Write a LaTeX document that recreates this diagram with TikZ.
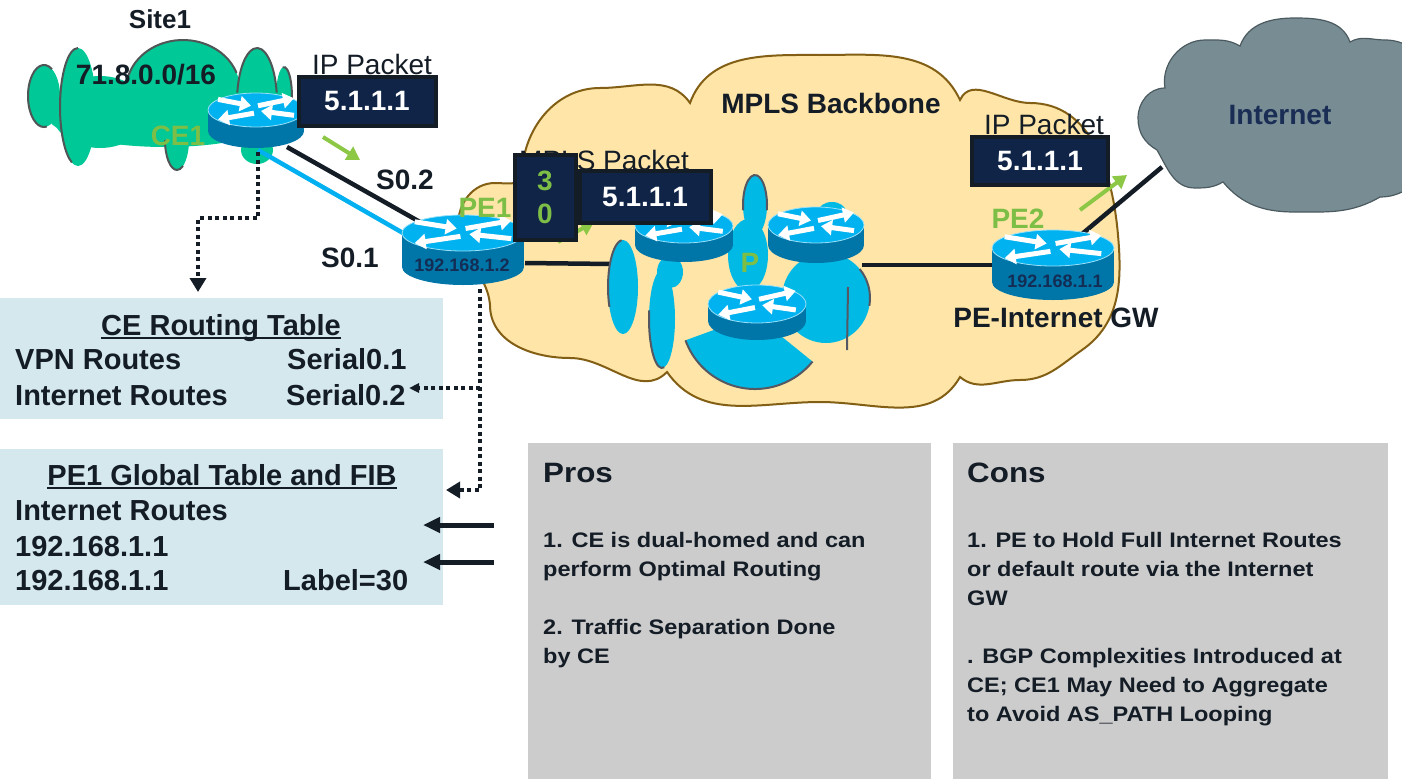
\documentclass[tikz,border=0pt]{standalone}
\usepackage{fontspec}
\setmainfont{Liberation Sans}
\newfontfamily\widefont[FakeStretch=1.12]{Liberation Sans}
\usetikzlibrary{arrows.meta,positioning,calc}

\definecolor{ink}{RGB}{20,28,38}
\definecolor{navy}{RGB}{16,36,72}
\definecolor{sitegreen}{RGB}{0,200,150}
\definecolor{siteoutline}{RGB}{80,85,85}
\definecolor{tagreen}{RGB}{125,190,70}
\definecolor{arrowgreen}{RGB}{140,200,70}
\definecolor{mplsfill}{RGB}{255,230,168}
\definecolor{mplsedge}{RGB}{130,95,20}
\definecolor{netgrey}{RGB}{120,140,148}
\definecolor{netedge}{RGB}{75,90,95}
\definecolor{netlabel}{RGB}{25,45,85}
\definecolor{rtop}{RGB}{0,178,240}
\definecolor{rside}{RGB}{0,118,168}
\definecolor{rlabel}{RGB}{20,45,85}
\definecolor{blob}{RGB}{0,185,228}
\definecolor{bloboutline}{RGB}{85,88,98}
\definecolor{cyanlink}{RGB}{0,176,240}
\definecolor{tableblue}{RGB}{213,232,237}
\definecolor{boxgrey}{RGB}{204,204,204}

% router icon: x radius, y radius, side height
\tikzset{
  pics/router/.style n args={3}{code={
    \fill[rside] (0,#3) ellipse[x radius=#1pt, y radius=#2pt];
    \fill[rside] (-#1,0) rectangle (#1,#3);
    \fill[rtop] (0,0) ellipse[x radius=#1pt, y radius=#2pt];
    \draw[white!60!rtop, line width=0.8pt] (0,0) ellipse[x radius=#1pt, y radius=#2pt];
    \begin{scope}[xscale=#1/48, yscale=#2/16, white, line width=5pt,
                  -{Triangle[length=11pt,width=15pt]}]
      \draw (-38,-10) -- (-5,-4);
      \draw (2,-4) -- (38,-11);
      \draw (-2,3) -- (-38,9);
      \draw (38,5) -- (5,1);
    \end{scope}
  }}
}

\begin{document}
\begin{tikzpicture}[x=1pt,y=-1pt,
  lbl/.style={font=\fontsize{28}{32}\selectfont\bfseries, text=ink, inner sep=0pt},
  plainlbl/.style={font=\fontsize{28}{32}\selectfont, text=ink, inner sep=0pt},
  tag/.style={lbl, text=tagreen},
  pkt/.style={draw=ink, line width=4pt, fill=navy, text=white,
              font=\fontsize{28}{32}\selectfont\bfseries, inner sep=0pt},
  rtaddr/.style={font=\fontsize{18}{20}\selectfont\bfseries, text=rlabel, inner sep=0pt},
  link/.style={line width=4.5pt, draw=ink},
  flow/.style={draw=arrowgreen, line width=4pt, -{Triangle[length=13pt,width=15pt]}},
  dots/.style={draw=ink, line width=4pt, dash pattern=on 4pt off 3.5pt,
               -{Triangle[length=14pt,width=16pt]}},
  tabarrow/.style={draw=ink, line width=5pt, -{Triangle[length=17pt,width=15pt]}},
  tabtxt/.style={font=\fontsize{29}{35}\selectfont\bfseries, text=ink,
                 inner sep=0pt, anchor=base west},
  panel/.style={inner sep=0pt, anchor=north west},
  boxtxt/.style={font=\widefont\bfseries\fontsize{21}{29}\selectfont, text=ink,
                 inner sep=0pt, align=left, anchor=base west},
  blobedge/.style={draw=bloboutline, line width=2pt},
  siteedge/.style={draw=siteoutline, line width=2pt},
]
\useasboundingbox (0,0) rectangle (1402,779);
\fill[white] (0,0) rectangle (1402,779);
\clip (0,0) rectangle (1402,779);

% site cloud
\fill[sitegreen] (165,115) ellipse[x radius=118pt, y radius=32pt];
\fill[sitegreen] (100,112) ellipse[x radius=48pt, y radius=36pt];
\fill[sitegreen] (183,90) ellipse[x radius=57pt, y radius=50pt];
\fill[sitegreen] (44,96) ellipse[x radius=16pt, y radius=31pt];
\fill[sitegreen] (78,107) ellipse[x radius=18pt, y radius=59pt];
\fill[sitegreen] (177,140) ellipse[x radius=12pt, y radius=30pt];
\fill[sitegreen] (257,102) ellipse[x radius=20pt, y radius=54pt];
\fill[sitegreen] (284,97) ellipse[x radius=8pt, y radius=30pt];
\fill[sitegreen] (257,150) ellipse[x radius=16pt, y radius=14pt];
\draw[siteedge] (44,96) ++(60:16pt and 31pt) arc[start angle=60, end angle=280, x radius=16pt, y radius=31pt];
\draw[siteedge] (78,107) ++(90:18pt and 59pt) arc[start angle=90, end angle=250, x radius=18pt, y radius=59pt];
\draw[siteedge] (183,90) ++(20:57pt and 50pt) arc[start angle=20, end angle=165, x radius=57pt, y radius=50pt];
\draw[siteedge] (257,102) ++(10:20pt and 54pt) arc[start angle=10, end angle=170, x radius=20pt, y radius=54pt];
\draw[siteedge] (284,97) ++(-60:8pt and 30pt) arc[start angle=-60, end angle=100, x radius=8pt, y radius=30pt];
\draw[siteedge] (177,140) ++(180:12pt and 30pt) arc[start angle=180, end angle=300, x radius=12pt, y radius=30pt];

% MPLS backbone cloud
\filldraw[fill=mplsfill, draw=mplsedge, line width=2pt]
  (522,180) to[out=92,in=180] (600,88) to[out=0,in=125] (690,103)
  to[out=70,in=180] (820,55) to[out=0,in=115] (960,100)
  to[out=65,in=180] (1030,103) to[out=0,in=95] (1118,235)
  to[out=-85,in=35] (1082,350) to[out=-145,in=0] (1020,380)
  to[out=180,in=-40] (960,377) to[out=-120,in=0] (820,402)
  to[out=180,in=-55] (667,372) to[out=-135,in=0] (570,358)
  to[out=180,in=-90] (490,305) to[out=95,in=-90] (458,225)
  to[out=90,in=180] (495,183) to[out=0,in=-150] cycle;

% Internet cloud
\filldraw[fill=netgrey, draw=netedge, line width=1.2pt]
  (1165,88) to[out=100,in=180] (1205,40) to[out=0,in=150] (1240,46)
  to[out=70,in=180] (1295,18) to[out=0,in=110] (1350,42)
  to[out=30,in=180] (1385,40) to[out=0,in=90] (1440,110)
  to[out=-90,in=0] (1380,197) to[out=-150,in=0] (1295,212)
  to[out=180,in=-50] (1223,182) to[out=-150,in=0] (1195,188)
  to[out=180,in=-60] (1157,150) to[out=150,in=-90] (1138,118)
  to[out=90,in=180] cycle;

% link end points
\coordinate (ce1-s02) at (287,147);
\coordinate (pe1-s02) at (420,222);
\coordinate (ce1-s01) at (258,150);
\coordinate (pe1-s01) at (403,233);
\coordinate (pe1-core) at (525,263);
\coordinate (p-west) at (612,264);
\coordinate (p-east) at (862,265);
\coordinate (pe2-core) at (992,265);
\coordinate (pe2-up) at (1082,234);
\coordinate (net-in) at (1162,167);

\draw[link] (ce1-s02) -- (pe1-s02);
\draw[link, draw=cyanlink] (ce1-s01) -- (pe1-s01);
\draw[link] (pe1-core) -- (p-west);
\draw[link] (p-east) -- (pe2-core);
\draw[link] (pe2-up) -- (net-in);

% P cluster
\fill[blob] (623,287) ellipse[x radius=15pt, y radius=47pt];
\fill[blob] (662,319) ellipse[x radius=13pt, y radius=49pt];
\fill[blob] (670,272) ellipse[x radius=13pt, y radius=16pt];
\fill[blob] (755,205) ellipse[x radius=12pt, y radius=30pt];
\fill[blob] (748,255) ellipse[x radius=20pt, y radius=36pt];
\fill[blob] (826,298) ellipse[x radius=44pt, y radius=45pt];
\fill[blob] (832,212) ellipse[x radius=14pt, y radius=10pt];
\fill[blob] (755,315) -- +(200:74pt) arc[start angle=200, end angle=321, radius=74pt] -- cycle;
\draw[blobedge] (623,287) ++(95:15pt and 47pt) arc[start angle=95, end angle=205, x radius=15pt, y radius=47pt];
\draw[blobedge] (662,319) ++(170:13pt and 49pt) arc[start angle=170, end angle=280, x radius=13pt, y radius=49pt];
\draw[blobedge] (755,205) ++(-10:12pt and 30pt) arc[start angle=-10, end angle=190, x radius=12pt, y radius=30pt];
\draw[blobedge] (826,298) ++(40:44pt and 45pt) arc[start angle=40, end angle=-10, x radius=44pt, y radius=45pt];
\draw[blobedge] (848,287) -- (847,350);
\draw[blobedge] (755,315) ++(200:74pt) arc[start angle=200, end angle=321, radius=74pt];

% routers
\coordinate (ce1) at (256,110);
\coordinate (pe1) at (463,233);
\coordinate (p1) at (684,226);
\coordinate (p2) at (816,225);
\coordinate (p3) at (757,304);
\coordinate (pe2) at (1053,248);
\pic at (ce1) {router={48}{17}{21}};
\pic at (pe1) {router={61}{18}{34}};
\pic at (p1) {router={49}{17}{19}};
\pic at (p2) {router={48}{18}{20}};
\pic at (p3) {router={49}{19}{17}};
\pic at (pe2) {router={61}{18}{34}};
\node[rtaddr] (pe1addr) at (462,265) {192.168.1.2};
\node[rtaddr] (pe2addr) at (1055,281) {192.168.1.1};

% labels
\node[lbl, font=\fontsize{26}{30}\selectfont\bfseries] (site) at (160,19) {Site1};
\node[lbl] (prefix) at (146,75) {71.8.0.0/16};
\node[tag] (ce1lbl) at (178,136) {CE1};
\node[lbl] (s02) at (405,180) {S0.2};
\node[lbl] (s01) at (350,258) {S0.1};
\node[tag] (pe1lbl) at (485,208) {PE1};
\node[tag] (plbl) at (750,263) {P};
\node[tag] (pe2lbl) at (1018,219) {PE2};
\node[lbl] (backbone) at (831,103) {MPLS Backbone};
\node[lbl] (gw) at (1056,318) {PE-Internet GW};
\node[lbl, text=netlabel] (inet) at (1280,115) {Internet};

% packets in flight
\coordinate (flow1a) at (323,137);
\coordinate (flow1b) at (360,160);
\coordinate (flow2a) at (558,242);
\coordinate (flow2b) at (594,222);
\coordinate (flow3a) at (1080,210);
\coordinate (flow3b) at (1127,175);
\draw[flow] (flow1a) -- (flow1b);
\draw[flow] (flow2a) -- (flow2b);
\draw[flow] (flow3a) -- (flow3b);

\node[plainlbl] (ippkt1) at (372,64) {IP Packet};
\node[pkt, minimum width=137pt, minimum height=49pt] (pkt1) at (367,101) {5.1.1.1};
\node[plainlbl] (mplspkt) at (604,160) {MPLS Packet};
\node[pkt, minimum width=61pt, minimum height=85pt, text=tagreen, align=center,
      font=\fontsize{28}{33}\selectfont\bfseries] (label30) at (545,197) {3\\0};
\node[pkt, minimum width=131pt, minimum height=52pt] (pkt2) at (645,197) {5.1.1.1};
\node[plainlbl] (ippkt2) at (1044,124) {IP Packet};
\node[pkt, minimum width=136pt, minimum height=48pt] (pkt3) at (1040,161) {5.1.1.1};

% routing tables
\node[panel, fill=tableblue, minimum width=443pt, minimum height=121pt] (cetable) at (0,298) {};
\node[tabtxt, anchor=base] (cetitle) at (221,335) {CE Routing Table};
\draw[ink, line width=1.5pt] ([yshift=-3pt]cetitle.base west) -- ([yshift=-3pt]cetitle.base east);
\node[tabtxt] (vpnrt) at (15,369) {VPN Routes};
\node[tabtxt] (ser01) at (287,369) {Serial0.1};
\node[tabtxt] (inetrt) at (15,405) {Internet Routes};
\node[tabtxt] (ser02) at (286,405) {Serial0.2};

\node[panel, fill=tableblue, minimum width=443pt, minimum height=156pt] (fibtable) at (0,449) {};
\node[tabtxt, anchor=base] (fibtitle) at (222,485) {PE1 Global Table and FIB};
\draw[ink, line width=1.5pt] ([yshift=-3pt]fibtitle.base west) -- ([yshift=-3pt]fibtitle.base east);
\node[tabtxt] (fibinet) at (15,520) {Internet Routes};
\node[tabtxt] (fibgw) at (15,556) {192.168.1.1};
\node[tabtxt] (fiblsp) at (15,590) {192.168.1.1};
\node[tabtxt] (fiblabel) at (283,590) {Label=30};

% table lookups
\coordinate (ce1-foot) at (258,152);
\coordinate (cetab-top) at (198,292);
\coordinate (pe1-foot) at (480,289);
\coordinate (fib-in) at (446,490);
\coordinate (tap) at (480,388);
\coordinate (ser02-in) at (409,388);
\draw[dots] (ce1-foot) -- ++(0,66) -| (cetab-top);
\draw[dots] (pe1-foot) |- (fib-in);
\draw[dots, -{Triangle[length=10pt,width=9pt]}] (tap) -- (ser02-in);

\coordinate (arr1a) at (494,525);
\coordinate (arr1b) at (423,525);
\coordinate (arr2a) at (494,562);
\coordinate (arr2b) at (423,562);
\draw[tabarrow] (arr1a) -- (arr1b);
\draw[tabarrow] (arr2a) -- (arr2b);

% pros and cons (base anchor sits on the last line)
\node[panel, fill=boxgrey, minimum width=403pt, minimum height=336pt] (prosbox) at (528,443) {};
\node[panel, fill=boxgrey, minimum width=435pt, minimum height=336pt] (consbox) at (953,443) {};
\node[lbl, font=\widefont\bfseries\fontsize{28}{32}\selectfont, anchor=base west] (prostitle) at (543,482) {Pros};
\node[lbl, font=\widefont\bfseries\fontsize{28}{32}\selectfont, anchor=base west] (constitle) at (967,482) {Cons};
\node[boxtxt] (prostext) at (543,663) {1. CE is dual-homed and can\\perform Optimal Routing\\[29pt]2. Traffic Separation Done\\by CE};
\node[boxtxt] (constext) at (967,721) {1. PE to Hold Full Internet Routes\\or default route via the Internet\\GW\\[29pt]. BGP Complexities Introduced at\\CE; CE1 May Need to Aggregate\\to Avoid AS\_PATH Looping};
\end{tikzpicture}
\end{document}
